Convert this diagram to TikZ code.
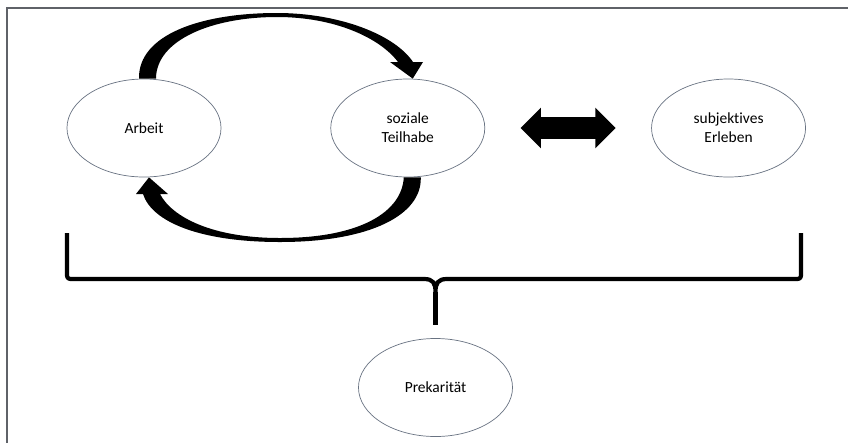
\documentclass[tikz,border=0pt]{standalone}
\usepackage{fontspec}
\setmainfont{Carlito}[Ligatures={NoCommon,NoContextual}]
\usetikzlibrary{calc, shapes, arrows, positioning}

\definecolor{rimgray}{RGB}{105,115,130}
\definecolor{framegray}{RGB}{95,98,104}

\begin{document}
\begin{tikzpicture}[
        x=0.025cm, y=-0.025cm,
        bubble/.style={
            ellipse, draw=rimgray, line width=0.5pt, fill=white,
            minimum width=3.85cm, minimum height=2.45cm, inner sep=0pt,
            align=center, font=\fontsize{11}{13.5}\selectfont
        },
        linkarrow/.style={
            double arrow, fill=black, inner xsep=0pt, inner ysep=0.2625cm,
            minimum height=2.375cm, double arrow head extend=0.2375cm,
            double arrow tip angle=90
        },
        curvearrow/.style={fill=black},
        bracket/.style={draw=black, line width=3pt, line join=round},
        frame/.style={draw=framegray, line width=1pt}
    ]
    \useasboundingbox (0,0) rectangle (848,443);

    % FRAME
    \draw[frame] (848,8) -- (7,8) -- (7,443);

    % TOP ROW
    \node[bubble] (arbeit) at (144,128) {Arbeit};
    \node[bubble, right=2.725cm of arbeit] (teilhabe) {soziale\\Teilhabe};
    \node[bubble, right=4.15cm of teilhabe] (erleben) {subjektives\\Erleben};

    % DOUBLE ARROW
    \node[linkarrow] (link) at ($(teilhabe.east)!0.5!(erleben.west)$) {};

    % BOTTOM
    \node[bubble] (prekaritaet) at (435.5,387.5) {Prekarität};

    % CURVED ARROWS
    \fill[curvearrow] ($(arbeit.north)+(-5,0)$) .. controls (138,35) and (200,13) .. (277,13)
        .. controls (340,13) and (395,35) .. (413,62) -- (423,62) -- ($(teilhabe.north)+(5,0)$)
        -- (390,62) -- (398,62) .. controls (380,38) and (335,17) .. (277,17)
        .. controls (212,17) and (156,40) .. ($(arbeit.north)+(12,0)$) -- cycle;
    \fill[curvearrow] ($(teilhabe.south)+(13,0)$) .. controls (422,215) and (370,242) .. (280,242)
        .. controls (200,242) and (152,222) .. (143,194) -- (136,194) -- ($(arbeit.south)+(5,0)$)
        -- (168,194) -- (160,194) .. controls (172,217) and (212,238) .. (280,238)
        .. controls (360,238) and (402,212) .. ($(teilhabe.south)+(-4,0)$) -- cycle;

    % BRACE
    \coordinate (bl) at (67,233);
    \coordinate (br) at (801,233);
    \coordinate (cusp) at (435.5,292);
    \coordinate (tip) at ($(prekaritaet.north)+(0,-13)$);
    \draw[bracket] (bl) -- (67,272) .. controls (67,279) .. (74,279) -- (424,279)
        .. controls (433,279) and (435.5,283) .. (cusp)
        .. controls (435.5,283) and (438,279) .. (447,279) -- (794,279)
        .. controls (801,279) .. (801,272) -- (br);
    \draw[bracket] (cusp) -- (tip);

\end{tikzpicture}
\end{document}
